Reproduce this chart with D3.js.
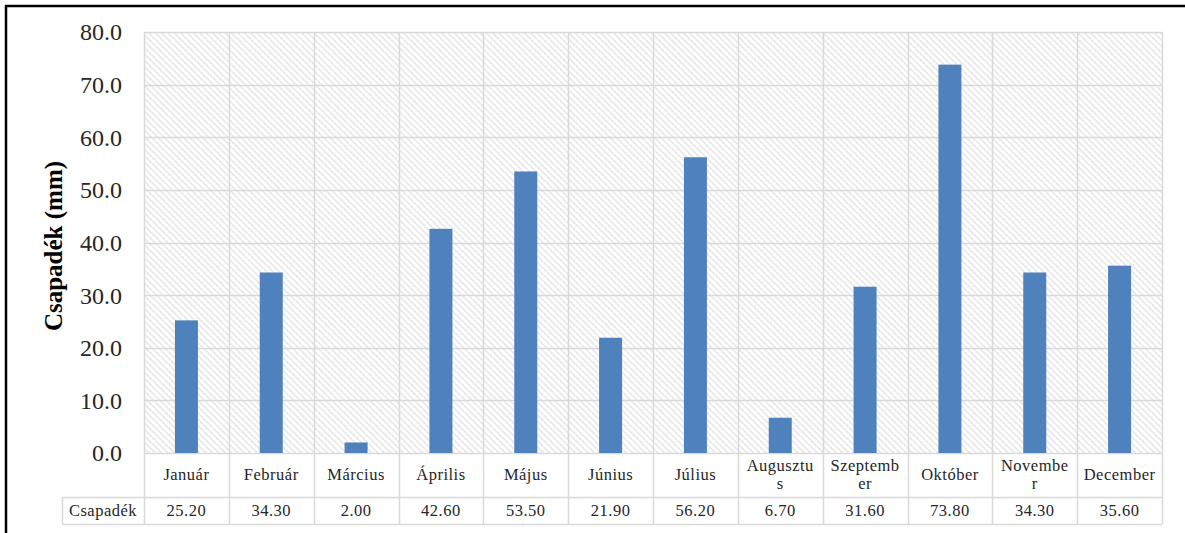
<!DOCTYPE html>
<html>
<head>
<meta charset="utf-8">
<script src="https://cdn.jsdelivr.net/npm/d3@7"></script>
<style>
  html, body { margin: 0; padding: 0; background: #fff; }
  svg { display: block; }
</style>
</head>
<body>
<svg id="chart" width="1185" height="533"></svg>
<script>
// Monthly precipitation (mm)
const months = ["Január", "Február", "Március", "Április", "Május", "Június",
                "Július", "Augusztus", "Szeptember", "Október", "November", "December"];
// Category labels as they wrap in the table cells
const monthLines = [["Január"], ["Február"], ["Március"], ["Április"], ["Május"], ["Június"],
                    ["Július"], ["Augusztu", "s"], ["Szeptemb", "er"], ["Október"], ["Novembe", "r"], ["December"]];
const precipitation = [25.2, 34.3, 2.0, 42.6, 53.5, 21.9, 56.2, 6.7, 31.6, 73.8, 34.3, 35.6];
const seriesName = "Csapadék";
const yTicks = [0, 10, 20, 30, 40, 50, 60, 70, 80];
const yTitle = "Csapadék (mm)";

const FONT = "'Liberation Serif', 'Times New Roman', serif";
const svg = d3.select("#chart");
const W = 1185, H = 533;

const plot = { left: 144, right: 1162, top: 32, bottom: 453 };
const tableLeft = 62, row1Bottom = 497, row2Bottom = 524;
const gridColor = "#d9d9d9";

// Hatched plot-area background
const defs = svg.append("defs");
const pat = defs.append("pattern")
  .attr("id", "hatch")
  .attr("patternUnits", "userSpaceOnUse")
  .attr("width", 4.5).attr("height", 4.5)
  .attr("patternTransform", "rotate(-45)");
pat.append("rect").attr("width", 4.5).attr("height", 4.5).attr("fill", "#fff");
pat.append("line").attr("x1", 1).attr("y1", 0).attr("x2", 1).attr("y2", 4.5)
  .attr("stroke", "#dcdcdc").attr("stroke-width", 1.2).attr("stroke-dasharray", "2.5,0.5");

// Outer frame (top and left edges visible)
svg.append("line").attr("x1", 5).attr("x2", W).attr("y1", 6).attr("y2", 6)
  .attr("stroke", "#000").attr("stroke-width", 2.5);
svg.append("line").attr("x1", 6).attr("x2", 6).attr("y1", 5).attr("y2", H)
  .attr("stroke", "#000").attr("stroke-width", 2.5);

const x = d3.scaleBand().domain(months).range([plot.left, plot.right]).paddingInner(0).paddingOuter(0);
const y = d3.scaleLinear().domain([0, 80]).range([plot.bottom, plot.top]);

svg.append("rect")
  .attr("x", plot.left).attr("y", plot.top)
  .attr("width", plot.right - plot.left).attr("height", plot.bottom - plot.top)
  .attr("fill", "url(#hatch)");

// Horizontal gridlines
svg.append("g").selectAll("line").data(yTicks).join("line")
  .attr("x1", plot.left).attr("x2", plot.right)
  .attr("y1", d => Math.round(y(d)) + 0.5).attr("y2", d => Math.round(y(d)) + 0.5)
  .attr("stroke", gridColor).attr("stroke-width", 1.5);

// Vertical category separators through plot and table
const bounds = months.map(m => x(m)).concat([plot.right]);
svg.append("g").selectAll("line").data(bounds).join("line")
  .attr("x1", d => Math.round(d) + 0.5).attr("x2", d => Math.round(d) + 0.5)
  .attr("y1", plot.top).attr("y2", row2Bottom)
  .attr("stroke", gridColor).attr("stroke-width", 1.5);

// Table horizontal lines
svg.append("line").attr("x1", tableLeft).attr("x2", plot.right)
  .attr("y1", row1Bottom + 0.5).attr("y2", row1Bottom + 0.5).attr("stroke", gridColor).attr("stroke-width", 1.5);
svg.append("line").attr("x1", tableLeft).attr("x2", plot.right)
  .attr("y1", row2Bottom + 0.5).attr("y2", row2Bottom + 0.5).attr("stroke", gridColor).attr("stroke-width", 1.5);
svg.append("line").attr("x1", tableLeft + 0.5).attr("x2", tableLeft + 0.5)
  .attr("y1", row1Bottom).attr("y2", row2Bottom).attr("stroke", gridColor).attr("stroke-width", 1.5);

// Bars
const barW = 23;
svg.append("g").selectAll("rect").data(precipitation).join("rect")
  .attr("x", (d, i) => x(months[i]) + x.bandwidth() / 2 - barW / 2)
  .attr("width", barW)
  .attr("y", d => y(d))
  .attr("height", d => y(0) - y(d))
  .attr("fill", "#4f81bd");

// Y axis tick labels
const yAxis = d3.axisLeft(y).tickValues(yTicks).tickFormat(d3.format(".1f")).tickSize(0).tickPadding(0);
const yg = svg.append("g").attr("transform", `translate(${plot.left - 22},0)`).call(yAxis);
yg.select(".domain").remove();
yg.selectAll("text")
  .style("font-family", FONT).style("font-size", "24px").style("fill", "#262626")
  .attr("dy", "0.33em");

// Y axis title
svg.append("text")
  .attr("transform", `translate(53,246) rotate(-90)`)
  .attr("text-anchor", "middle").attr("dominant-baseline", "central")
  .style("font-family", FONT).style("font-size", "25px").style("font-weight", "bold").style("fill", "#000")
  .text(yTitle);

// Shared style for table text
const tableText = sel => sel
  .attr("text-anchor", "middle")
  .style("font-family", FONT).style("font-size", "16.5px")
  .style("letter-spacing", "0.5px").style("fill", "#262626");

// Category row
const catG = svg.append("g").selectAll("text").data(monthLines).join("text")
  .call(tableText)
  .attr("x", (d, i) => x(months[i]) + x.bandwidth() / 2);
catG.each(function(lines) {
  const t = d3.select(this);
  const cy = (plot.bottom + row1Bottom) / 2;
  const lh = 18;
  lines.forEach((ln, j) => {
    t.append("tspan")
      .attr("x", t.attr("x"))
      .attr("y", cy + (j - (lines.length - 1) / 2) * lh)
      .attr("dy", "0.33em")
      .text(ln);
  });
});

// Value row
const rowY = (row1Bottom + row2Bottom) / 2;
svg.append("text").call(tableText)
  .attr("x", (tableLeft + plot.left) / 2).attr("y", rowY).attr("dy", "0.33em")
  .text(seriesName);
svg.append("g").selectAll("text").data(precipitation).join("text")
  .call(tableText)
  .attr("x", (d, i) => x(months[i]) + x.bandwidth() / 2)
  .attr("y", rowY).attr("dy", "0.33em")
  .text(d => d3.format(".2f")(d));
</script>
</body>
</html>
